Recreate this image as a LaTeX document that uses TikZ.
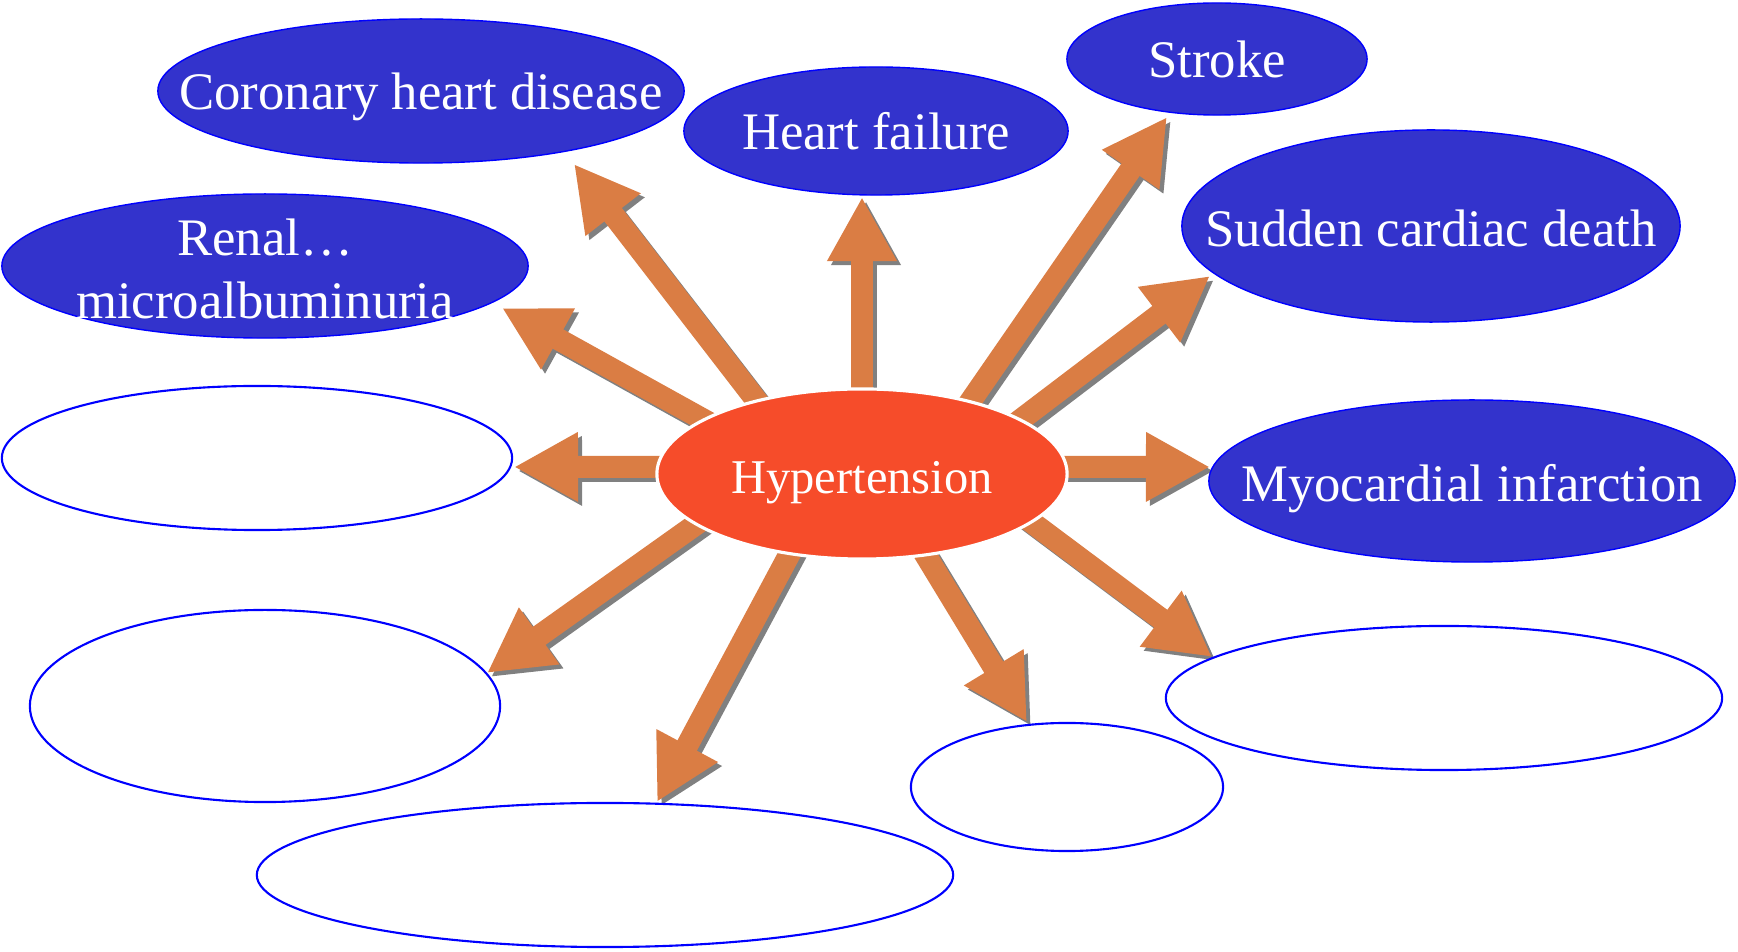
\documentclass[tikz,border=0pt]{standalone}
\usepackage{fontspec}
\setmainfont{Liberation Serif}
\usetikzlibrary{arrows.meta,shapes.geometric}
\definecolor{blobblue}{RGB}{51,51,204}
\definecolor{edgeblue}{RGB}{0,0,255}
\definecolor{hyperred}{RGB}{246,76,42}
\definecolor{spokeorange}{RGB}{218,125,68}
\definecolor{shadowgray}{RGB}{128,128,128}
\pgfdeclarelayer{back}
\pgfsetlayers{back,main}
\newcommand{\spoke}[2]{%
  \draw[push, shadowgray, transform canvas={xshift=0.4mm, yshift=-0.4mm}] (hyp.#1) -- (#2);
  \draw[push, spokeorange] (hyp.#1) -- (#2);}

\begin{document}
\begin{tikzpicture}[x=0.01cm, y=-0.01cm,
  blob/.style={ellipse, draw=edgeblue, fill=blobblue, line width=0.4pt, inner sep=0pt},
  hole/.style={ellipse, draw=edgeblue, fill=white, line width=0.6pt, inner sep=0pt},
  txt/.style={text=white, font=\fontsize{15}{18}\selectfont, align=center, yshift=-0.7mm},
  word/.style={txt, text height=0.7em, text depth=0.22em, yshift=-0.35mm},
  push/.style={line width=2.2mm, -{Triangle[length=6.4mm, width=6.5mm]}, shorten <=-2mm}]
\useasboundingbox (0,0) rectangle (1738,952);
% centre
\node[ellipse, fill=hyperred, draw=white, line width=0.9pt, inner sep=0pt,
  minimum width=4.1cm, minimum height=1.7cm,
  label={[word, font=\fontsize{13.8}{17}\selectfont, yshift=-0.1mm]center:Hypertension}] (hyp) at (862,474) {};
% filled outcomes
\node[blob, minimum width=5.26cm, minimum height=1.44cm,
  label={[word]center:Coronary heart disease}] (chd) at (421,91) {};
\node[blob, minimum width=3.84cm, minimum height=1.28cm,
  label={[word]center:Heart failure}] (hf) at (876,131) {};
\node[blob, minimum width=3.0cm, minimum height=1.12cm,
  label={[word]center:Stroke}] (stroke) at (1217,59) {};
\node[blob, minimum width=4.98cm, minimum height=1.92cm,
  label={[word, yshift=-0.2mm]center:Sudden cardiac death}] (scd) at (1431,226) {};
\node[blob, minimum width=5.26cm, minimum height=1.44cm,
  label={[txt, yshift=0.4mm]center:Renal…\\microalbuminuria}] (renal) at (265,266) {};
\node[blob, minimum width=5.26cm, minimum height=1.62cm,
  label={[word, yshift=-0.2mm]center:Myocardial infarction}] (mi) at (1472,481) {};
% empty outcomes
\node[hole, minimum width=5.1cm, minimum height=1.44cm] (leftA) at (257,458) {};
\node[hole, minimum width=4.7cm, minimum height=1.92cm] (leftB) at (265,706) {};
\node[hole, minimum width=6.96cm, minimum height=1.44cm] (bottom) at (605,875) {};
\node[hole, minimum width=3.12cm, minimum height=1.28cm] (small) at (1067,787) {};
\node[hole, minimum width=5.56cm, minimum height=1.44cm] (right) at (1444,698) {};
% arrow tips
\coordinate (tchd) at (574,164);
\coordinate (thf) at (862,197);
\coordinate (tstroke) at (1167,117);
\coordinate (tscd) at (1210,276);
\coordinate (trenal) at (502,308);
\coordinate (tleftA) at (514,467);
\coordinate (tmi) at (1210,467);
\coordinate (tleftB) at (487,673);
\coordinate (tbottom) at (657,802);
\coordinate (tsmall) at (1027,722);
\coordinate (tright) at (1212,657);
\begin{pgfonlayer}{back}
\spoke{145}{tchd}
\spoke{90}{thf}
\spoke{34}{tstroke}
\spoke{19}{tscd}
\spoke{161}{trenal}
\spoke{178}{tleftA}
\spoke{2}{tmi}
\spoke{197}{tleftB}
\spoke{228}{tbottom}
\spoke{308}{tsmall}
\spoke{344}{tright}
\end{pgfonlayer}
\end{tikzpicture}
\end{document}
